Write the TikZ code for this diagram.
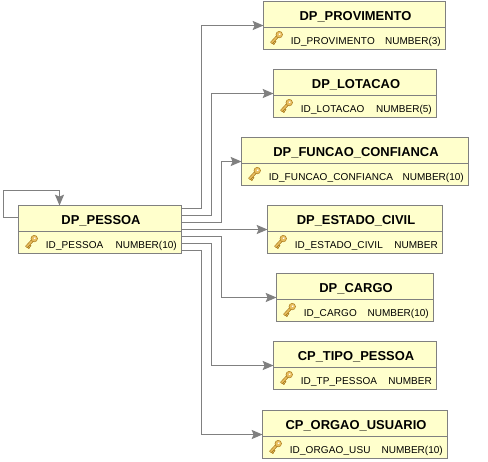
\documentclass[tikz,border=0pt]{standalone}
\usepackage{fontspec}
\setmainfont{Liberation Sans}
\newfontfamily\attrfont[LetterSpace=1.2]{Liberation Sans}
\usetikzlibrary{arrows.meta}
\definecolor{edgegray}{HTML}{808080}
\definecolor{boxyellow}{HTML}{FFFFCC}
\definecolor{keygold}{HTML}{E8BE60}
\definecolor{keydark}{HTML}{A87818}
\tikzset{
  x=0.75pt,y=-0.75pt,
  tablebox/.style={draw=edgegray,line width=0.8pt,fill=boxyellow,inner sep=0pt,outer sep=0pt,anchor=north west},
  titletext/.style={font=\bfseries\fontsize{9.7}{11}\selectfont,inner sep=0pt,text=black,anchor=base},
  attrtext/.style={font=\attrfont\fontsize{7.5}{9}\selectfont,inner sep=0pt,anchor=base west,text=black},
  typetext/.style={font=\fontsize{7.5}{9}\selectfont,inner sep=0pt,anchor=base east,text=black},
  link/.style={draw=edgegray,line width=0.8pt,-{Stealth[length=8.2pt,width=7pt,inset=1.5pt,line width=0pt,fill=edgegray]}},
}
% #1 name, #2 left, #3 top, #4 right, #5 title, #6 attribute, #7 type
\newcommand{\dbtable}[7]{%
  \pgfmathsetmacro{\tw}{(#4-#2)*0.75}
  \node[tablebox,minimum width=\tw pt,minimum height=36pt] (#1) at (#2,#3) {};
  \draw[edgegray,line width=0.8pt] (#2,#3+26) -- (#4,#3+26);
  \node[titletext] (#1t) at ({(#2+#4)/2+1},#3+19) {#5};
  \node[attrtext] (#1a) at (#2+27,#3+42.5) {#6};
  \node[typetext] (#1b) at (#4-4.5,#3+42.5) {#7};
  \begin{scope}[shift={(#2+13,#3+36)},rotate=47]
    \draw[keydark,line width=0.35pt,fill=keygold] (-7.5,-1.2) rectangle (1.5,1.2);
    \draw[keydark,line width=0.35pt,fill=keygold] (-7,1.2) rectangle (-5.6,2.9);
    \draw[keydark,line width=0.35pt,fill=keygold] (-4.6,1.2) rectangle (-3.4,2.5);
    \draw[keydark,line width=0.35pt,fill=keygold] (4,0) circle (3.3);
    \fill[white] (4.5,0) circle (1);
  \end{scope}
}
\begin{document}
\begin{tikzpicture}
\useasboundingbox (0,0) rectangle (488,461);
\dbtable{pessoa}{18.5}{205.5}{181.5}{DP\_PESSOA}{ID\_PESSOA}{NUMBER(10)}
\dbtable{prov}{263.5}{1.5}{445.5}{DP\_PROVIMENTO}{ID\_PROVIMENTO}{NUMBER(3)}
\dbtable{lot}{273.5}{69.5}{436.5}{DP\_LOTACAO}{ID\_LOTACAO}{NUMBER(5)}
\dbtable{func}{241.5}{137.5}{468.5}{DP\_FUNCAO\_CONFIANCA}{ID\_FUNCAO\_CONFIANCA}{NUMBER(10)}
\dbtable{est}{267.5}{205.5}{442.5}{DP\_ESTADO\_CIVIL}{ID\_ESTADO\_CIVIL}{NUMBER}
\dbtable{cargo}{276.5}{273.5}{433.5}{DP\_CARGO}{ID\_CARGO}{NUMBER(10)}
\dbtable{tipo}{273.5}{341.5}{436.5}{CP\_TIPO\_PESSOA}{ID\_TP\_PESSOA}{NUMBER}
\dbtable{orgao}{262.5}{410.5}{447.5}{CP\_ORGAO\_USUARIO}{ID\_ORGAO\_USU}{NUMBER(10)}
\coordinate (bendA) at (201.5,0);
\coordinate (bendB) at (211.5,0);
\coordinate (bendC) at (221.5,0);
\draw[link] ([yshift=15.75pt]pessoa.east) -| (bendA |- prov.west) -- (prov.west);
\draw[link] ([yshift=10.5pt]pessoa.east) -| (bendB |- lot.west) -- (lot.west);
\draw[link] ([yshift=5.25pt]pessoa.east) -| (bendC |- func.west) -- (func.west);
\draw[link] (pessoa.east) -- (est.west);
\draw[link] ([yshift=-5.25pt]pessoa.east) -| (bendC |- cargo.west) -- (cargo.west);
\draw[link] ([yshift=-10.5pt]pessoa.east) -| (bendB |- tipo.west) -- (tipo.west);
\draw[link] ([yshift=-15.75pt]pessoa.east) -| (bendA |- orgao.west) -- (orgao.west);
\coordinate (loopA) at (3.5,190.5);
\coordinate (loopB) at (59.5,190.5);
\draw[link] ([yshift=9pt]pessoa.west) -| (loopA) -- (loopB) -- (loopB |- pessoa.north);
\end{tikzpicture}
\end{document}
